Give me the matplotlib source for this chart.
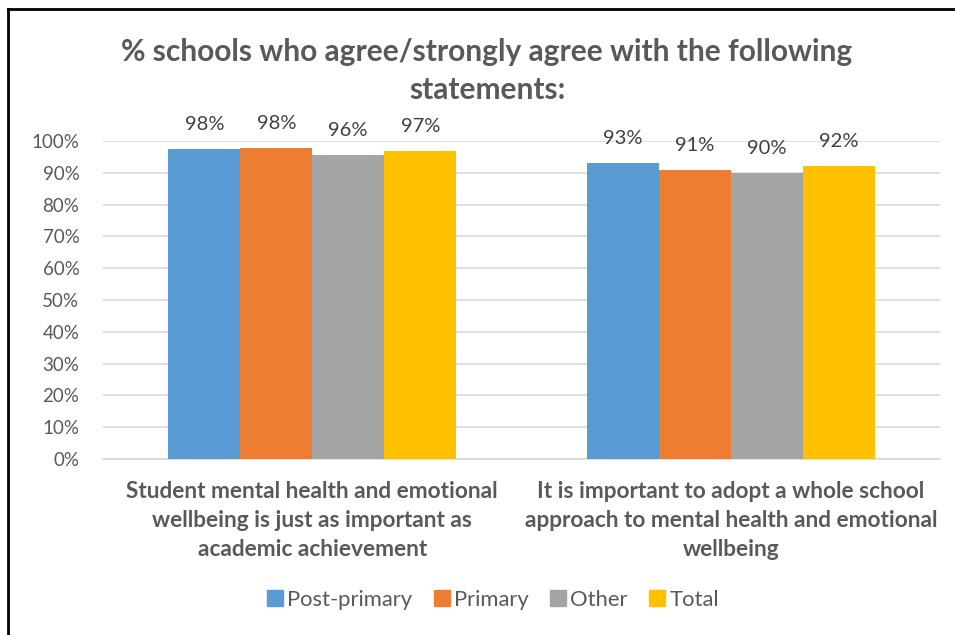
import numpy as np
import matplotlib
matplotlib.use("Agg")
import matplotlib.pyplot as plt
from matplotlib.lines import Line2D

categories = ["Student mental health and emotional\nwellbeing is just as important as\nacademic achievement",
              "It is important to adopt a whole school\napproach to mental health and emotional\nwellbeing"]
series = ["Post-primary", "Primary", "Other", "Total"]
post_primary = [0.975, 0.93]
primary = [0.978, 0.91]
other = [0.956, 0.90]
total = [0.969, 0.92]
labels_pp = ["98%", "93%"]
labels_pr = ["98%", "91%"]
labels_ot = ["96%", "90%"]
labels_to = ["97%", "92%"]
colours = ["#5B9BD5", "#ED7D31", "#A5A5A5", "#FFC000"]
yticks = np.arange(0, 1.01, 0.1)

plt.rcParams['font.family'] = ["Lato", "DejaVu Sans"]

fig = plt.figure(figsize=(9.55, 6.35), dpi=100)
ax = fig.add_axes([103 / 955, 1 - 459 / 635, 837 / 955, 318 / 635])

x = np.arange(len(categories))
width = 0.172
values = [post_primary, primary, other, total]
labels = [labels_pp, labels_pr, labels_ot, labels_to]
for i, (vals, labs, col) in enumerate(zip(values, labels, colours)):
    pos = x + (i - 1.5) * width
    bars = ax.bar(pos, vals, width, color=col, zorder=3, label=series[i])
    for b, lab in zip(bars, labs):
        ax.annotate(lab, (b.get_x() + b.get_width() / 2, b.get_height()),
                    xytext=(0, 11.5), textcoords="offset points", ha="center",
                    va="bottom", fontsize=14.5, color="#404040",
                    annotation_clip=False)

ax.set_xlim(-0.5, 1.5)
ax.set_ylim(0, 1)
ax.set_yticks(yticks)
ax.set_yticklabels(["%d%%" % round(v * 100) for v in yticks])
ax.yaxis.grid(True, color="#D9D9D9", lw=1.2, zorder=0)
ax.set_xticks(x)
ax.set_xticklabels(categories, fontsize=16.3, fontweight="bold",
                   color="#595959", linespacing=1.48)
ax.tick_params(axis="y", length=0, labelsize=13.5, labelcolor="#595959", pad=17)
ax.tick_params(axis="x", length=0, pad=15.5)
for s in ["top", "right", "left"]:
    ax.spines[s].set_visible(False)
ax.spines["bottom"].set_color("#D9D9D9")
ax.spines["bottom"].set_linewidth(1.2)

fig.text(0.51, 1 - 71 / 635,
         "% schools who agree/strongly agree with the following\nstatements:",
         ha="center", va="center", fontsize=21.5, fontweight="bold",
         color="#595959", linespacing=1.4)

handles = [Line2D([], [], marker="s", ls="", markersize=12, color=c)
           for c in colours]
fig.legend(handles, series, loc="center", bbox_to_anchor=(492 / 955, 1 - 600 / 635),
           ncol=4, frameon=False, fontsize=15.8, labelcolor="#595959",
           handletextpad=0.1, columnspacing=0.9, handlelength=0.9)

# frame lines on the left and top only
fig.add_artist(Line2D([8 / 955, 8 / 955], [0, 1 - 9 / 635], color="black", lw=2))
fig.add_artist(Line2D([8 / 955, 1], [1 - 9 / 635, 1 - 9 / 635], color="black", lw=2))

fig.savefig("out.png", dpi=100)
